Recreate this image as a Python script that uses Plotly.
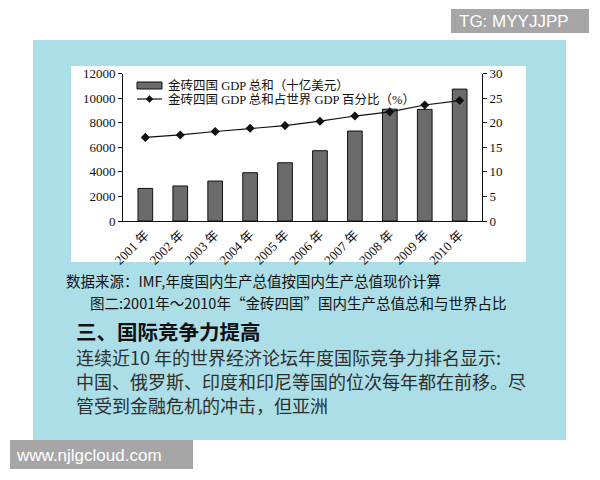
import plotly.graph_objects as go

years = ["2001 年", "2002 年", "2003 年", "2004 年", "2005 年",
         "2006 年", "2007 年", "2008 年", "2009 年", "2010 年"]
gdp_total = [2650, 2850, 3250, 3930, 4740, 5720, 7320, 9100, 9080, 10730]
world_share = [17.0, 17.5, 18.2, 18.85, 19.4, 20.3, 21.35, 22.2, 23.6, 24.5]

bar_name = "金砖四国 GDP 总和（十亿美元）"
line_name = "金砖四国 GDP 总和占世界 GDP 百分比（%）"

W, H = 600, 480
OFF = 8  # page body margin offset
def px(x):
    return (x - OFF) / W
def py(y):
    return 1 - (y - OFF) / H

SERIF = "Liberation Serif, Noto Sans CJK SC, serif"
SANS = "Noto Sans CJK SC, sans-serif"
BAR_FILL = "#6b6b6b"
INK = "#111111"

fig = go.Figure()
fig.add_trace(go.Bar(
    x=years, y=gdp_total, name=bar_name,
    marker=dict(color=BAR_FILL, line=dict(color=INK, width=1)),
    yaxis="y", showlegend=False,
))
fig.add_trace(go.Scatter(
    x=years, y=world_share, name=line_name, mode="lines+markers",
    line=dict(color=INK, width=1.2),
    marker=dict(symbol="diamond", size=7, color=INK),
    yaxis="y2", showlegend=False,
))

lg_x0, lg_x1 = 137, 162
row1, row2 = 85.5, 99
dcx = (lg_x0 + lg_x1) / 2
d = 3.5

shapes = [
    dict(type="rect", xref="paper", yref="paper", layer="below",
         x0=px(33), x1=px(566), y0=py(440), y1=py(40),
         fillcolor="#abdee6", line=dict(width=0)),
    dict(type="rect", xref="paper", yref="paper", layer="below",
         x0=px(71), x1=px(526), y0=py(262), y1=py(66),
         fillcolor="#ffffff", line=dict(width=0)),
    dict(type="rect", xref="paper", yref="paper",
         x0=px(451), x1=px(589), y0=py(33), y1=py(9),
         fillcolor="#a6a6a6", line=dict(width=0)),
    dict(type="rect", xref="paper", yref="paper",
         x0=px(10), x1=px(193), y0=py(469), y1=py(440),
         fillcolor="#a6a6a6", line=dict(width=0)),
    dict(type="rect", xref="paper", yref="paper",
         x0=px(lg_x0), x1=px(lg_x1), y0=py(row1 + 3.5), y1=py(row1 - 3.5),
         fillcolor=BAR_FILL, line=dict(color=INK, width=1)),
    dict(type="line", xref="paper", yref="paper",
         x0=px(lg_x0), x1=px(lg_x1), y0=py(row2), y1=py(row2),
         line=dict(color=INK, width=1.2)),
    dict(type="path", xref="paper", yref="paper",
         path=(f"M {px(dcx)} {py(row2 - d)} L {px(dcx + d)} {py(row2)} "
               f"L {px(dcx)} {py(row2 + d)} L {px(dcx - d)} {py(row2)} Z"),
         fillcolor=INK, line=dict(color=INK, width=0.5)),
]

def ann(text, x, y, size, color=INK, family=SANS, anchor="left"):
    return dict(text=text, x=px(x), y=py(y), xref="paper", yref="paper",
                xanchor=anchor, yanchor="middle", showarrow=False,
                font=dict(family=family, size=size, color=color))

annotations = [
    ann("TG: MYYJJPP", 457, 21, 17, "#ffffff", "Liberation Sans, Arial, sans-serif"),
    ann("www.njlgcloud.com", 14, 455, 17, "#ffffff", "Liberation Sans, Arial, sans-serif"),
    ann(bar_name, 166, row1, 12.5, INK, SERIF),
    ann(line_name, 166, row2, 12.5, INK, SERIF),
    ann("数据来源：IMF,年度国内生产总值按国内生产总值现价计算", 64, 280, 14.5),
    ann("图二:2001年～2010年“金砖四国”国内生产总值总和与世界占比", 88, 302, 14.5),
    ann("<b>三、国际竞争力提高</b>", 74, 331, 20.5),
    ann("连续近10 年的世界经济论坛年度国际竞争力排名显示:", 74, 357, 18, "#2e2e2e"),
    ann("中国、俄罗斯、印度和印尼等国的位次每年都在前移。尽", 74, 381, 18, "#2e2e2e"),
    ann("管受到金融危机的冲击，但亚洲", 74, 405, 18, "#2e2e2e"),
]

axis_font = dict(family=SERIF, size=13, color=INK)
fig.update_layout(
    width=W, height=H,
    margin=dict(l=0, r=0, t=0, b=0, pad=0, autoexpand=False),
    paper_bgcolor="#ffffff",
    plot_bgcolor="rgba(0,0,0,0)",
    bargap=0.58,
    showlegend=False,
    xaxis=dict(domain=[px(123), px(482)], anchor="y", automargin=False,
               showline=True, linecolor=INK, linewidth=1,
               ticks="", tickangle=-45, showgrid=False,
               tickfont=axis_font),
    yaxis=dict(domain=[py(221), py(73.5)], range=[0, 12000], dtick=2000,
               automargin=False, tickformat="d",
               showline=True, linecolor=INK, linewidth=1,
               ticks="outside", ticklen=4, tickcolor=INK,
               showgrid=False, zeroline=False, tickfont=axis_font),
    yaxis2=dict(domain=[py(221), py(73.5)], range=[0, 30], dtick=5,
                automargin=False,
                overlaying="y", side="right", anchor="x",
                showline=True, linecolor=INK, linewidth=1,
                ticks="outside", ticklen=4, tickcolor=INK,
                showgrid=False, zeroline=False, tickfont=axis_font),
    shapes=shapes,
    annotations=annotations,
)

fig.write_html("out.html")
